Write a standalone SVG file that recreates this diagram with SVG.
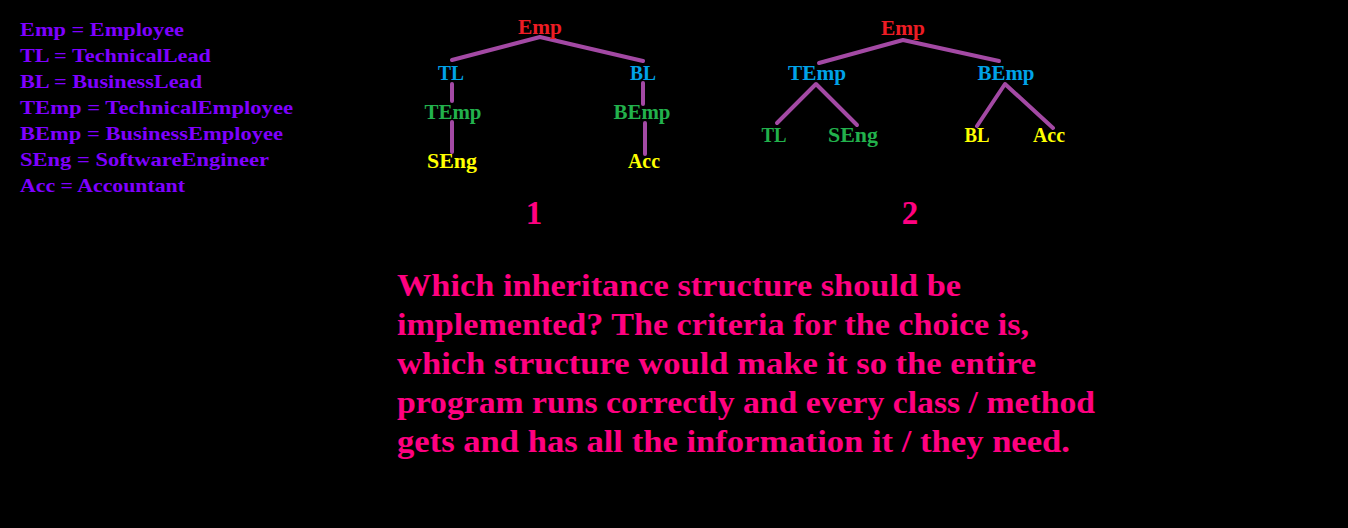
<svg xmlns="http://www.w3.org/2000/svg" width="1348" height="528" viewBox="0 0 1348 528">
<style>
text{font-family:"Liberation Serif","DejaVu Serif",serif;font-weight:bold;}
.leg{font-size:19.5px;fill:#7F00FF;}
.lbl{font-size:21px;text-anchor:middle;}
.red{fill:#ED1C24;}
.blue{fill:#00A2E8;}
.green{fill:#22B14C;}
.yellow{fill:#FFFF00;}
.num{font-size:33px;fill:#FF0080;text-anchor:middle;}
.q{font-size:32px;fill:#FF0080;}
.edge{stroke:#A349A4;stroke-width:4;fill:none;stroke-linecap:round;stroke-linejoin:round;}
</style>
<rect width="1348" height="528" fill="#000"/>
<g id="legend">
<text class="leg" x="20" y="36" textLength="164" lengthAdjust="spacingAndGlyphs">Emp = Employee</text>
<text class="leg" x="20" y="62" textLength="191" lengthAdjust="spacingAndGlyphs">TL = TechnicalLead</text>
<text class="leg" x="20" y="88" textLength="182" lengthAdjust="spacingAndGlyphs">BL = BusinessLead</text>
<text class="leg" x="20" y="114" textLength="273" lengthAdjust="spacingAndGlyphs">TEmp = TechnicalEmployee</text>
<text class="leg" x="20" y="140" textLength="263" lengthAdjust="spacingAndGlyphs">BEmp = BusinessEmployee</text>
<text class="leg" x="20" y="166" textLength="249" lengthAdjust="spacingAndGlyphs">SEng = SoftwareEngineer</text>
<text class="leg" x="20" y="192" textLength="165" lengthAdjust="spacingAndGlyphs">Acc = Accountant</text>
</g>
<g id="connectors">
<polyline class="edge" points="452,60 540,37 643,61"/>
<line class="edge" x1="452" y1="84" x2="452" y2="101"/>
<line class="edge" x1="452" y1="122" x2="452" y2="152"/>
<line class="edge" x1="643" y1="83" x2="643" y2="104"/>
<line class="edge" x1="645" y1="123" x2="645" y2="154"/>
<polyline class="edge" points="819,63 903,40 999,61"/>
<polyline class="edge" points="777,123 816,84 857,125"/>
<polyline class="edge" points="977,126 1005,84 1053,128"/>
</g>
<g id="t1-emp"><text class="lbl red" x="540" y="34" textLength="44" lengthAdjust="spacingAndGlyphs">Emp</text></g>
<g id="t1-tl"><text class="lbl blue" x="451" y="80" textLength="26" lengthAdjust="spacingAndGlyphs">TL</text></g>
<g id="t1-bl"><text class="lbl blue" x="643" y="80" textLength="26" lengthAdjust="spacingAndGlyphs">BL</text></g>
<g id="t1-temp"><text class="lbl green" x="453" y="119" textLength="57" lengthAdjust="spacingAndGlyphs">TEmp</text></g>
<g id="t1-bemp"><text class="lbl green" x="642" y="119" textLength="57" lengthAdjust="spacingAndGlyphs">BEmp</text></g>
<g id="t1-seng"><text class="lbl yellow" x="452" y="168" textLength="50" lengthAdjust="spacingAndGlyphs">SEng</text></g>
<g id="t1-acc"><text class="lbl yellow" x="644" y="168" textLength="32" lengthAdjust="spacingAndGlyphs">Acc</text></g>
<g id="t2-emp"><text class="lbl red" x="903" y="35" textLength="44" lengthAdjust="spacingAndGlyphs">Emp</text></g>
<g id="t2-temp"><text class="lbl blue" x="817" y="80" textLength="58" lengthAdjust="spacingAndGlyphs">TEmp</text></g>
<g id="t2-bemp"><text class="lbl blue" x="1006" y="80" textLength="57" lengthAdjust="spacingAndGlyphs">BEmp</text></g>
<g id="t2-tl"><text class="lbl green" x="774" y="142" textLength="25" lengthAdjust="spacingAndGlyphs">TL</text></g>
<g id="t2-seng"><text class="lbl green" x="853" y="142" textLength="50" lengthAdjust="spacingAndGlyphs">SEng</text></g>
<g id="t2-bl"><text class="lbl yellow" x="977" y="142" textLength="25" lengthAdjust="spacingAndGlyphs">BL</text></g>
<g id="t2-acc"><text class="lbl yellow" x="1049" y="142" textLength="32" lengthAdjust="spacingAndGlyphs">Acc</text></g>
<g id="numbers">
<text class="num" x="534" y="224">1</text>
<text class="num" x="910" y="224">2</text>
</g>
<g id="question">
<text class="q" x="397" y="296" textLength="564" lengthAdjust="spacingAndGlyphs">Which inheritance structure should be</text>
<text class="q" x="397" y="335" textLength="632" lengthAdjust="spacingAndGlyphs">implemented? The criteria for the choice is,</text>
<text class="q" x="397" y="374" textLength="639" lengthAdjust="spacingAndGlyphs">which structure would make it so the entire</text>
<text class="q" x="397" y="413" textLength="698" lengthAdjust="spacingAndGlyphs">program runs correctly and every class / method</text>
<text class="q" x="397" y="452" textLength="673" lengthAdjust="spacingAndGlyphs">gets and has all the information it / they need.</text>
</g>
</svg>
